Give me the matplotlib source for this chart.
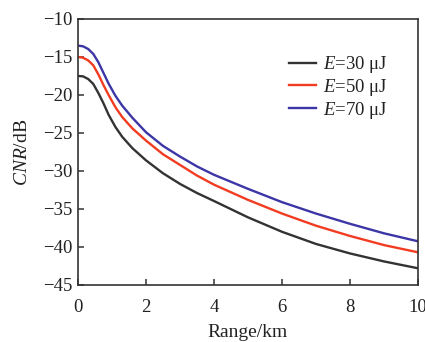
import matplotlib
matplotlib.use("Agg")
import matplotlib.pyplot as plt

plt.rcParams['font.family'] = ['Liberation Serif', 'DejaVu Serif']
plt.rcParams['mathtext.fontset'] = 'custom'
plt.rcParams['mathtext.rm'] = 'Liberation Serif'
plt.rcParams['mathtext.it'] = 'Liberation Serif:italic'

# Range (km) and CNR (dB) for three pulse energies
range_km = [0.0, 0.15, 0.3, 0.45, 0.6, 0.75, 0.9, 1.1, 1.3, 1.6, 2.0, 2.5, 3.0,
            3.5, 4.0, 5.0, 6.0, 7.0, 8.0, 9.0, 10.0]
cnr_30uj = [-17.5, -17.55, -17.9, -18.55, -19.75, -21.1, -22.6, -24.2, -25.5, -27.0,
            -28.6, -30.3, -31.7, -32.9, -33.95, -36.1, -38.0, -39.6, -40.85, -41.9, -42.8]
cnr_50uj = [-15.0, -15.1, -15.45, -16.1, -17.3, -18.7, -20.0, -21.6, -22.9, -24.4,
            -26.0, -27.8, -29.2, -30.6, -31.8, -33.8, -35.6, -37.2, -38.55, -39.75, -40.7]
cnr_70uj = [-13.5, -13.6, -13.95, -14.6, -15.7, -17.1, -18.5, -20.1, -21.4, -23.0,
            -24.9, -26.7, -28.1, -29.4, -30.5, -32.35, -34.1, -35.6, -36.95, -38.2, -39.25]
energies = ['30', '50', '70']
colors = ['#333333', '#f23c22', '#3c36a6']

fig = plt.figure(figsize=(4.25, 3.42), dpi=100)
ax = fig.add_axes([0.1835, 0.1667, 0.80, 0.7778])

for e, y, c in zip(energies, [cnr_30uj, cnr_50uj, cnr_70uj], colors):
    ax.plot(range_km, y, color=c, lw=1.7, label=r'$E$=' + e + ' μJ',
            solid_joinstyle='round')

ax.set_xlim(0, 10)
ax.set_ylim(-45, -10)
ax.set_xticks([0, 2, 4, 6, 8, 10])
ax.set_yticks([-45, -40, -35, -30, -25, -20, -15, -10])
ax.tick_params(direction='in', length=4, width=1.1, labelsize=13.5, color='#333333',
               labelcolor='#222222', pad=4)
ax.tick_params(axis='x', pad=10)
for s in ax.spines.values():
    s.set_color('#333333')
    s.set_linewidth(1.2)

ax.set_xlabel('Range/km', fontsize=14, color='#222222', labelpad=6)
ax.set_ylabel(r'$CNR$/dB', fontsize=14, color='#222222', labelpad=9)

leg = ax.legend(loc='upper right', bbox_to_anchor=(0.912, 0.868), frameon=False,
                fontsize=13.5, handlelength=1.45, handletextpad=0.4, labelspacing=0.1,
                borderaxespad=0, borderpad=0)
for t in leg.get_texts():
    t.set_color('#222222')

fig.savefig('out.png', dpi=100)
